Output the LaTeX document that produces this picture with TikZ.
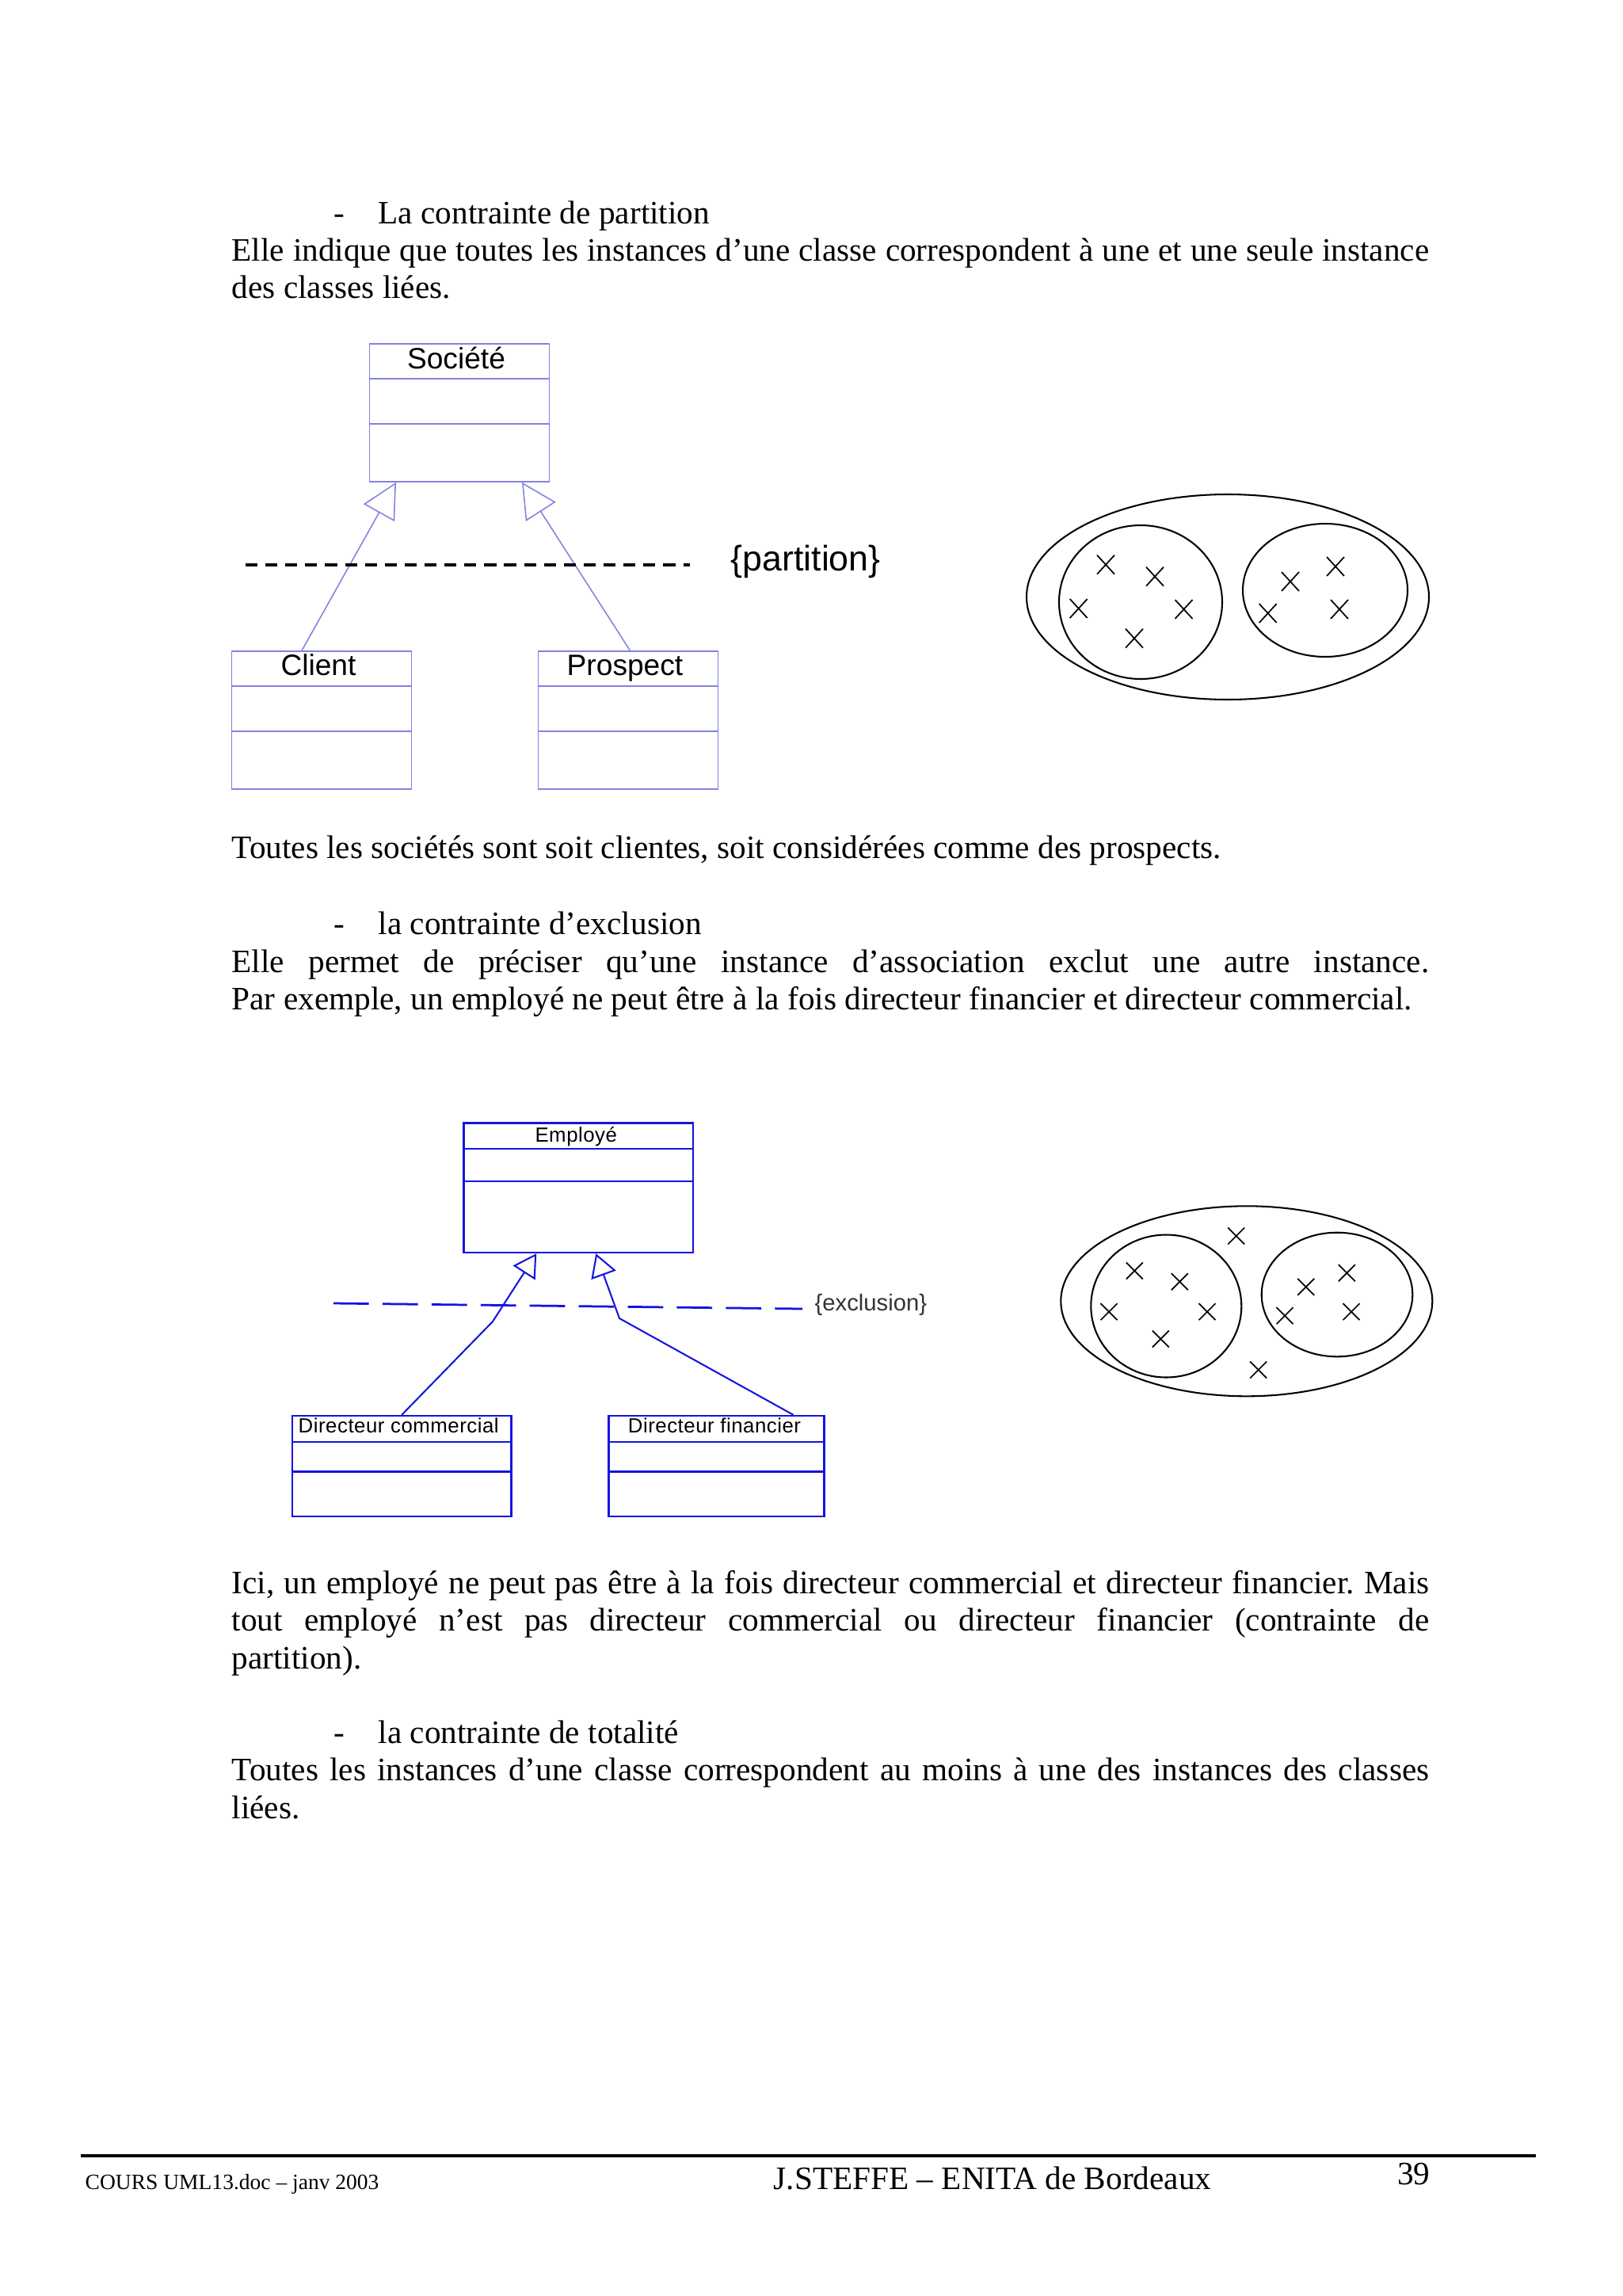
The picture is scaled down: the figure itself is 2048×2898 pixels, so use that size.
\documentclass[tikz,border=0pt]{standalone}
\usepackage{fontspec}
\setmainfont{Liberation Serif}
\newfontfamily\umlsans{Liberation Sans}
\newfontfamily\umlpix[LetterSpace=2]{Liberation Sans}
\usetikzlibrary{arrows.meta,calc}
\definecolor{socline}{RGB}{130,130,225}
\definecolor{empblue}{RGB}{20,20,225}
\newcommand\fullline[1]{\makebox[439.4pt][s]{#1}}
\frenchspacing

\begin{document}
\begin{tikzpicture}[x=0.290662pt,y=-0.290662pt,
  bodytext/.style={anchor=base west,inner sep=0pt,font=\fontsize{12}{14}\selectfont},
  socbox/.style={draw=socline,line width=0.45pt,minimum width=65.98pt,minimum height=50.58pt,inner sep=0pt},
  socname/.style={anchor=base,inner sep=0pt,font=\umlsans\fontsize{10.8}{12}\selectfont},
  gen1/.style={draw=socline,line width=0.45pt,-{Triangle[open,length=12.8pt,width=13pt]}},
  empbox/.style={draw=empblue,line width=0.7pt,inner sep=0pt},
  empname/.style={anchor=base,inner sep=0pt,font=\umlpix\fontsize{7.5}{9}\selectfont},
  gen2/.style={draw=empblue,line width=0.6pt,-{Triangle[open,length=8.4pt,width=9.6pt]}},
  setline/.style={line width=0.6pt},
  cross/.style={line width=0.5pt}]
\useasboundingbox[fill=white](0,0) rectangle (2048,2898);

% texte du haut
\node[bodytext] (dash1) at (421,282) {-};
\node[bodytext] (head1) at (477,282) {La contrainte de partition};
\node[bodytext] (p1a) at (292,329) {\fullline{Elle indique que toutes les instances d’une classe correspondent à une et une seule instance}};
\node[bodytext] (p1b) at (292,376) {des classes liées.};

% diagramme partition
\node[socbox] (soc) at (580,521) {};
\node[socbox] (client) at (406,909) {};
\node[socbox] (prospect) at (793,909) {};
\foreach \b in {soc,client,prospect}
  \foreach \d in {45,102}
    \draw[socline,line width=0.45pt] ($(\b.north west)+(0,\d)$) -- ($(\b.north east)+(0,\d)$);
\node[socname] (socname) at ($(soc.north)+(-4,32)$) {Société};
\node[socname] (clientname) at ($(client.north)+(-4,31)$) {Client};
\node[socname] (prospectname) at ($(prospect.north)+(-4,31)$) {Prospect};
\draw[gen1] ($(client.north)+(-25,0)$) -- ($(soc.south)+(-80,0)$);
\draw[gen1] ($(prospect.north)+(2.5,0)$) -- ($(soc.south)+(79,0)$);
\coordinate (partL) at (310,713);
\coordinate (partR) at (871,713);
\draw[line width=1pt,dash pattern=on 4.4pt off 2.9pt] (partL) -- (partR);
\node[anchor=base west,inner sep=0pt,font=\umlsans\fontsize{13}{15}\selectfont] (partition) at (922,720) {\{partition\}};

% ensembles partition
\draw[setline] (1550,753.5) ellipse [x radius=254,y radius=129.5];
\draw[setline] (1440,760) ellipse [x radius=103,y radius=97];
\draw[setline] (1673,745) ellipse [x radius=104,y radius=84];
\foreach \cx/\cy in {1396/712.7,1458/727.7,1361.7/768,1494.5/769,1432/805.7,1686/715,1629/734,1600.7/774,1691/769}
  \draw[cross] (\cx,\cy) +(-11,-12) -- +(11,12) +(-11,12) -- +(11,-12);

\node[bodytext] (p2) at (292,1083) {Toutes les sociétés sont soit clientes, soit considérées comme des prospects.};

\node[bodytext] (dash2) at (421,1179) {-};
\node[bodytext] (head2) at (477,1179) {la contrainte d’exclusion};
\node[bodytext] (p3a) at (292,1227) {\fullline{Elle permet de préciser qu’une instance d’association exclut une autre instance.}};
\node[bodytext] (p3b) at (292,1274) {Par exemple, un employé ne peut être à la fois directeur financier et directeur commercial.};

% diagramme exclusion
\node[empbox,minimum width=84.15pt,minimum height=47.49pt] (emp) at (730.25,1499.3) {};
\node[empbox,minimum width=80.37pt,minimum height=36.83pt] (dc) at (507.25,1850.35) {};
\node[empbox,minimum width=79.06pt,minimum height=36.83pt] (df) at (904.5,1850.35) {};
\foreach \d in {33.4,74.4}
  \draw[empblue,line width=0.7pt] ($(emp.north west)+(0,\d)$) -- ($(emp.north east)+(0,\d)$);
\foreach \b in {dc,df}
  \foreach \d in {34,71.5}
    \draw[empblue,line width=0.7pt] ($(\b.north west)+(0,\d)$) -- ($(\b.north east)+(0,\d)$);
\node[empname] (empname) at ($(emp.north)+(-3,25)$) {Employé};
\node[empname] (dcname) at ($(dc.north)+(-4,23)$) {Directeur commercial};
\node[empname] (dfname) at ($(df.north)+(-2.5,23)$) {Directeur financier};
\coordinate (dcbend) at (622,1668);
\coordinate (dfbend) at (782,1664);
\draw[gen2] (dc.north) -- (dcbend) -- ($(emp.south)+(-53,0)$);
\draw[gen2] ($(df.north)+(97,0)$) -- (dfbend) -- ($(emp.south)+(22,0)$);
\coordinate (exclL) at (421,1645);
\coordinate (exclR) at (1013,1652);
\draw[empblue,line width=0.8pt,dash pattern=on 13pt off 5pt] (exclL) -- (exclR);
\node[anchor=base west,inner sep=0pt,text=black!80,font=\umlsans\fontsize{8.5}{10}\selectfont] (exclusion) at (1028,1654) {\{exclusion\}};

% ensembles exclusion
\draw[setline] (1573.8,1642.3) ellipse [x radius=234.5,y radius=120];
\draw[setline] (1472.3,1648.5) ellipse [x radius=95,y radius=90];
\draw[setline] (1688,1634) ellipse [x radius=95.3,y radius=78.3];
\foreach \cx/\cy in {1560.7/1560,1432.3/1604,1489.3/1617.7,1400/1655.7,1524/1655.7,1465.3/1690,1588.7/1729,1700.3/1606.7,1648.7/1624.3,1622/1660.7,1706/1655.7}
  \draw[cross] (\cx,\cy) +(-10.5,-10.5) -- +(10.5,10.5) +(-10.5,10.5) -- +(10.5,-10.5);

% texte du bas
\node[bodytext] (p4a) at (292,2011) {\fullline{Ici, un employé ne peut pas être à la fois directeur commercial et directeur financier. Mais}};
\node[bodytext] (p4b) at (292,2058) {\fullline{tout employé n’est pas directeur commercial ou directeur financier (contrainte de}};
\node[bodytext] (p4c) at (292,2106) {partition).};
\node[bodytext] (dash3) at (421,2200) {-};
\node[bodytext] (head3) at (477,2200) {la contrainte de totalité};
\node[bodytext] (p5a) at (292,2247) {\fullline{Toutes les instances d’une classe correspondent au moins à une des instances des classes}};
\node[bodytext] (p5b) at (292,2295) {liées.};

% pied de page
\coordinate (footL) at (101.6,2721);
\coordinate (footR) at (1938.6,2721);
\draw[line width=0.9pt] (footL) -- (footR);
\node[anchor=base west,inner sep=0pt,font=\fontsize{8}{10}\selectfont] (footfile) at (107,2763) {COURS UML13.doc – janv 2003};
\node[bodytext] (footauthor) at (976,2763) {J.STEFFE – ENITA de Bordeaux};
\node[anchor=base east,inner sep=0pt,font=\fontsize{12}{14}\selectfont] (footpage) at (1806,2757) {39};
\end{tikzpicture}
\end{document}
